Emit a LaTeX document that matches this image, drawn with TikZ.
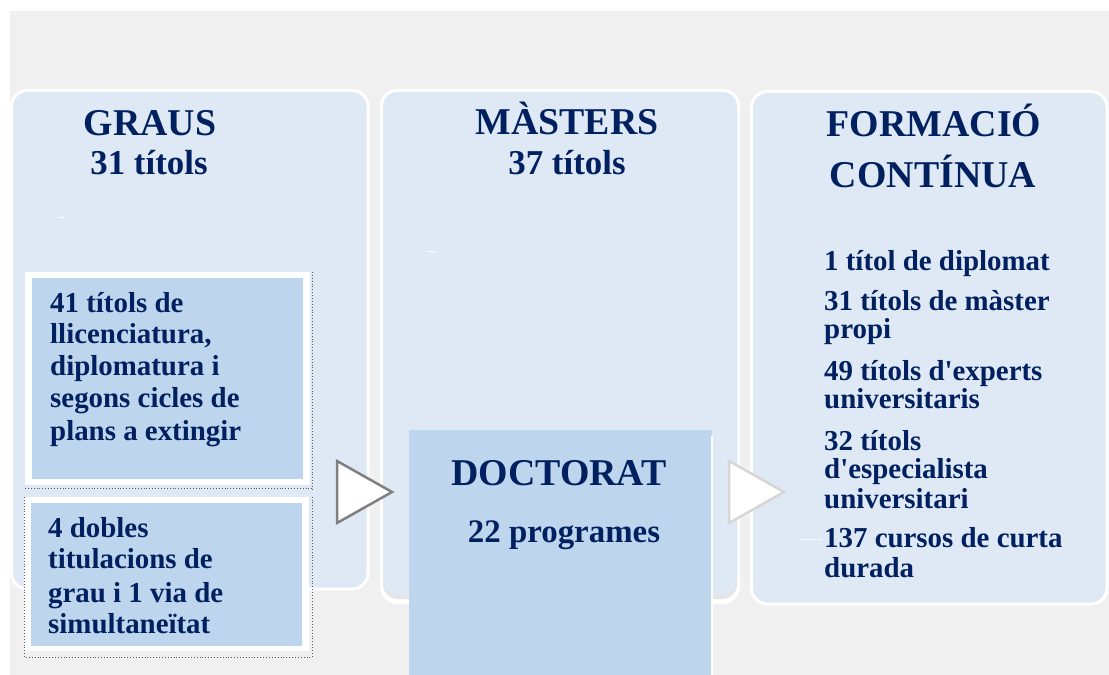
\documentclass[tikz,border=0pt]{standalone}
\usepackage{fontspec}
\setmainfont{Liberation Serif}[Ligatures=TeXOff]
\definecolor{navy}{RGB}{0,32,96}
\definecolor{bggray}{HTML}{F0F0F0}
\definecolor{panelblue}{HTML}{DEE9F5}
\definecolor{innerblue}{HTML}{BDD6EE}
\definecolor{darrow}{HTML}{808080}
\definecolor{larrow}{HTML}{D6D6D6}
\tikzset{
  panel/.style={fill=panelblue, draw=white, line width=3bp, rounded corners=16bp},
  txt/.style={inner sep=0pt, text=navy, font=\bfseries\fontsize{29}{32}\selectfont},
  ttl/.style={inner sep=0pt, text=navy, anchor=base, font=\bfseries\fontsize{38}{44}\selectfont},
  sub/.style={inner sep=0pt, text=navy, anchor=base, font=\bfseries\fontsize{35}{40}\selectfont},
  ln/.style={txt, anchor=base west},
  dots/.style={draw=black!65, dotted, line width=0.9bp},
  tri/.style={fill=white, line width=2.5bp, line join=miter},
  whitedash/.style={draw=white, line width=1bp}
}
\begin{document}
\begin{tikzpicture}[x=1bp,y=-1bp]
\useasboundingbox (0,0) rectangle (1109,675);
\fill[white] (0,0) rectangle (1109,675);
\fill[bggray] (10,11) rectangle (1109,675);

% panels
\draw[panel] (11.5,90.5) rectangle (368,589);
\fill[white, rounded corners=17bp] (380,89) rectangle (740,604);
\fill[black!10, rounded corners=15bp] (383,92) rectangle (737,599);
\fill[panelblue, rounded corners=15bp] (383,92) rectangle (737,595);
\draw[panel] (751.5,91.5) rectangle (1107,604);

% tiny white marks
\draw[whitedash] (58,217) -- (64,217);
\draw[whitedash] (428,251) -- (435,251);
\draw[whitedash, draw=white!60!panelblue] (799,539) -- (822,539);

% inner boxes of panel 1
\fill[white] (25,272) rectangle (310,485);
\fill[innerblue] (32,278) rectangle (303,479);
\draw[dots] (312,272) -- (312,490);
\draw[dots] (25,488) -- (312,488);
\fill[white] (24,497) rectangle (309,651);
\fill[innerblue] (31,503) rectangle (302,646);
\draw[dots] (24,497) -- (24,657) -- (312,657) -- (312,497);

% doctorat box
\fill[innerblue] (409,430) rectangle (712,675);
\draw[white, line width=2bp] (712,436) -- (712,675);

% arrows
\draw[tri, draw=darrow] (337,461) -- (392,492) -- (337,523) -- cycle;
\draw[tri, draw=larrow] (729,461) -- (784,492) -- (729,523) -- cycle;

% titles
\node[ttl] (graus) at (150,136) {GRAUS};
\node[sub] (grausn) at (149,175) {31 títols};
\node[ttl] (masters) at (567,135) {MÀSTERS};
\node[sub] (mastersn) at (567,175) {37 títols};
\node[ttl] (form1) at (934,137) {FORMACIÓ};
\node[ttl] (form2) at (933,188) {CONTÍNUA};
\node[ttl] (doct) at (559,485) {DOCTORAT};
\node[sub, font=\bfseries\fontsize{33}{38}\selectfont] (doctn) at (564,542) {22 programes};

% box A
\node[ln] (a1) at (50,312) {41 títols de};
\node[ln] (a2) at (50,343) {llicenciatura,};
\node[ln] (a3) at (50,375) {diplomatura i};
\node[ln] (a4) at (50,407) {segons cicles de};
\node[ln] (a5) at (50,440) {plans a extingir};

% box B
\node[ln] (b1) at (48,537) {4 dobles};
\node[ln] (b2) at (48,568) {titulacions de};
\node[ln] (b3) at (48,602) {grau i 1 via de};
\node[ln] (b4) at (48,633) {simultaneïtat};

% right list
\node[ln] (c1) at (824,270) {1 títol de diplomat};
\node[ln] (c2) at (824,310) {31 títols de màster};
\node[ln] (c3) at (824,338) {propi};
\node[ln] (c4) at (824,380) {49 títols d'experts};
\node[ln] (c5) at (824,408) {universitaris};
\node[ln] (c6) at (824,450) {32 títols};
\node[ln] (c7) at (824,478) {d'especialista};
\node[ln] (c8) at (824,508) {universitari};
\node[ln] (c9) at (824,547) {137 cursos de curta};
\node[ln] (c10) at (824,577) {durada};
\end{tikzpicture}
\end{document}
